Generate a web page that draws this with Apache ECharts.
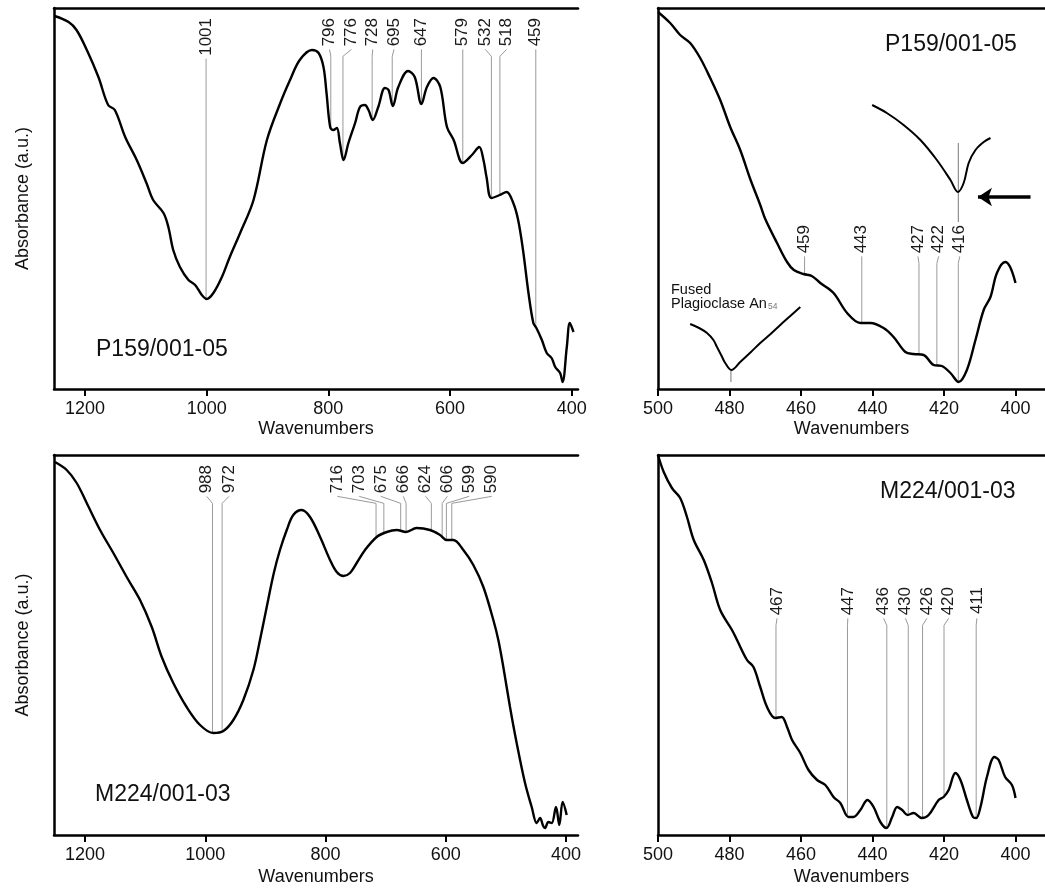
<!DOCTYPE html>
<html><head><meta charset="utf-8">
<script src="https://cdn.jsdelivr.net/npm/echarts@6/dist/echarts.min.js"></script>
<style>html,body{margin:0;padding:0;background:#fff}#c{width:1045px;height:888px}</style>
</head><body><div id="c"></div>
<script>
// ---------- DATA ----------
const TICKS_WIDE = [1200, 1000, 800, 600, 400];
const TICKS_NARROW = [500, 480, 460, 440, 420, 400];

// P159/001-05 full range
const P159_WN = [1250,1227,1214,1197,1178,1162,1151,1134,1115,1099,1088,1071,1063,1055,1044,1030,1019,1008,1000,989,975,962,945,923,901,879,863,847,827,816,808,803,797,792,786,781,775,767,756,748,740,734,727,718,707,701,694,685,669,658,647,638,627,616,605,594,579,564,552,545,540,532,518,507,496,488,480,471,463,458,449,441,433,427,419,415,408,403,397];
const P159_ABS = [373,367,359,339,312,284,279,252,229,206,189,176,162,139,122,109,104,94,90,96,112,132,156,189,249,286,309,329,339,336,322,296,262,259,261,246,229,246,266,282,284,279,269,282,301,299,283,302,318,312,285,302,311,302,262,249,226,234,242,229,212,191,194,197,186,169,139,96,66,61,49,36,31,22,16,7,42,66,57];
const P159_PEAKS = [1001,796,776,728,695,647,579,532,518,459];
const P159_LABEL_AT = [1001,798,762,727,692,647,579,542,507,459];

// P159/001-05 500-400 region
const P159Z_WN = [500,496.6,493.8,491,488.2,485.4,482.6,479.8,477,474.2,471.4,470,466.7,463.9,462,459.3,457,454.6,450.9,447.1,443.4,440.6,436.9,434.1,430.8,428.5,425.7,422.9,420.6,418.2,415.9,413.6,411.2,408.9,407,405.2,402.9,401.5,400];
const P159Z_ABS = [377,366,354,346,331,311,289,262,239,210,184,170,146,127,119,115,113,106,96,76,66,66,61,52,37,35,34,24,23,16,7,19,49,79,92,116,127,122,106];
const P159Z_PEAKS = [459,443,427,422,416];
const P159Z_LABEL_AT = [459,443,427.3,421.5,415.6];

// Fused plagioclase An54 reference trace
const FUSED_WN = [491,488.5,486.3,484.5,483.5,482.2,481.2,479.5,477,474,471.4,468.5,465.8,463,460.2];
const FUSED_ABS = [65,61,56,49,42,33,26,19,27,37,46,55,64,73,82];

// Magnified 416 band trace
const MAG_WN = [440.1,436,431.3,426.6,422,418.2,416.1,414.5,413.1,411.2,408.9,407];
const MAG_ABS = [284,276,264,249,229,209,197,206,226,239,247,251];

// M224/001-03 full range
const M224_WN = [1250,1230.5,1213.9,1197.2,1175,1152.9,1130.7,1108.5,1089,1072.4,1053.2,1031,1008.7,986.6,969.9,953.3,936.7,920,909,897.8,886,875.8,864.5,853.6,839.6,825.8,809,792.5,781.4,770.3,759.3,748.2,734.3,714.9,698.2,681.6,666,648.5,626.3,609.6,598.6,587.5,570.8,554.2,537.5,520.9,512.6,504.3,493.2,482.1,468.2,457.1,448.8,443.2,438,434.9,429.4,423.8,416.7,411.2,405.6,398.9];
const M224_ABS = [373,365,352,332,305,282,258,235,208,178,152,128,110,102,104,115,135,165,195,228,262,285,305,320,325,318,298,275,263,259,262,272,285,298,303,305,303,307,305,300,295,295,285,270,248,215,195,168,128,92,52,28,12,17,9,7,13,12,28,10,33,20];
const M224_PEAKS = [988,972,716,703,675,666,624,606,599,590];
const M224_LABEL_AT = [997.6,960.5,780.4,744,708,670.6,633.4,597.4,561,523.6];

// M224/001-03 500-400 region
const M224Z_WN = [500,498.4,496.1,493.8,491.9,490,487.2,484.9,482.6,479.3,477.9,475.1,473.3,471.4,469.5,467.2,465.4,463.9,462.5,460.2,457.9,455.5,453.2,450.9,449,446.7,445.3,443.4,441.4,439.7,437.8,436.1,434.5,433.1,431.7,430.2,428.5,426.2,424.3,421.5,420.1,418.7,416.8,415.4,413.6,411.9,411,409.8,408,405.9,404.7,402.9,401,400];
const M224Z_ABS = [380,363,347,337,318,295,275,252,225,205,195,175,168,148,128,117,118,108,95,82,65,55,50,38,32,18,18,25,35,28,13,7,18,28,25,20,22,17,20,35,38,45,62,55,35,18,17,28,58,78,75,58,50,37];
const M224Z_PEAKS = [467,447,436,430,426,420,411];
const M224Z_LABEL_AT = [466.7,446.9,436.9,430.8,424.8,418.7,410.8];

// ---------- HELPERS ----------
const FONT = '"Liberation Sans", Arial, Helvetica, sans-serif';
function interp(xs, ys, x) {
  for (let i = 0; i < xs.length - 1; i++) {
    const a = xs[i], b = xs[i + 1];
    if ((x <= a && x >= b) || (x >= a && x <= b)) {
      const t = (x - a) / (b - a);
      return ys[i] + t * (ys[i + 1] - ys[i]);
    }
  }
  return ys[ys.length - 1];
}
const zip = (a, b) => a.map((v, i) => [v, b[i]]);

const panels = [
  { grid: {left: 54, top: 8, width: 524, height: 381}, min: 389.6, max: 1251, ymax: 381, ticks: TICKS_WIDE, yname: true,
    wn: P159_WN, ab: P159_ABS, peaks: P159_PEAKS, at: P159_LABEL_AT, top: 371 },
  { grid: {left: 658, top: 8, width: 387, height: 381}, min: 391.75, max: 500, ymax: 381, ticks: TICKS_NARROW, yname: false,
    wn: P159Z_WN, ab: P159Z_ABS, peaks: P159Z_PEAKS, at: P159Z_LABEL_AT, top: 164 },
  { grid: {left: 54, top: 455, width: 524, height: 380}, min: 380.1, max: 1251.6, ymax: 380, ticks: TICKS_WIDE, yname: true,
    wn: M224_WN, ab: M224_ABS, peaks: M224_PEAKS, at: M224_LABEL_AT, top: 370 },
  { grid: {left: 658, top: 455, width: 387, height: 380}, min: 391.75, max: 500, ymax: 380, ticks: TICKS_NARROW, yname: false,
    wn: M224Z_WN, ab: M224Z_ABS, peaks: M224Z_PEAKS, at: M224Z_LABEL_AT, top: 248 }
];

const axisLineStyle = {color: '#000', width: 2.5};
const grids = [], xAxes = [], yAxes = [], series = [];
const LABEL_FS = 17;

panels.forEach((p, i) => {
  grids.push(Object.assign({containLabel: false}, p.grid));
  xAxes.push({
    type: 'value', gridIndex: i, inverse: true, min: p.min, max: p.max, position: 'bottom',
    axisLine: {show: true, onZero: false, lineStyle: axisLineStyle},
    axisTick: {show: true, customValues: p.ticks, length: 7, lineStyle: {color: '#000', width: 2}},
    axisLabel: {show: true, customValues: p.ticks, formatter: (v) => String(Math.round(v)),
                fontSize: 18, color: '#111', margin: 11, fontFamily: FONT},
    splitLine: {show: false},
    name: 'Wavenumbers', nameLocation: 'middle', nameGap: i < 2 ? 31 : 33,
    nameTextStyle: {fontSize: 18, color: '#111', fontFamily: FONT}
  });
  xAxes.push({
    type: 'value', gridIndex: i, inverse: true, min: p.min, max: p.max, position: 'top',
    axisLine: {show: true, onZero: false, lineStyle: axisLineStyle},
    axisTick: {show: false}, axisLabel: {show: false}, splitLine: {show: false}
  });
  yAxes.push({
    type: 'value', gridIndex: i, min: 0, max: p.ymax,
    axisLine: {show: true, onZero: false, lineStyle: axisLineStyle},
    axisTick: {show: false}, axisLabel: {show: false}, splitLine: {show: false},
    name: p.yname ? 'Absorbance (a.u.)' : '', nameLocation: 'middle', nameGap: 22, nameRotate: 90,
    nameTextStyle: {fontSize: 18, color: '#111', fontFamily: FONT}
  });

  // leader lines
  const leaders = p.peaks.map((pk, k) => {
    const txt = String(pk);
    const len = txt.length * 0.556 * LABEL_FS;
    const start = p.top - len - 3;
    const bend = start - 7;
    const cy = interp(p.wn, p.ab, pk);
    const lx = p.at[k];
    const coords = Math.abs(lx - pk) < 1e-6 ? [[pk, start], [pk, cy]] : [[lx, start], [pk, bend], [pk, cy]];
    return {coords};
  });
  series.push({
    type: 'lines', coordinateSystem: 'cartesian2d', xAxisIndex: 2 * i, yAxisIndex: i,
    polyline: true, silent: true, z: 1,
    lineStyle: {color: '#9a9a9a', width: 1, opacity: 1},
    data: leaders
  });
  // peak labels
  series.push({
    type: 'scatter', xAxisIndex: 2 * i, yAxisIndex: i, symbolSize: 0, silent: true, z: 3,
    itemStyle: {color: '#000'},
    data: p.peaks.map((pk, k) => [p.at[k], p.top, String(pk)]),
    label: {show: true, position: 'inside', formatter: (d) => d.value[2], rotate: 90,
            align: 'right', verticalAlign: 'middle', fontSize: LABEL_FS, color: '#1a1a1a',
            textBorderWidth: 0, opacity: 1, fontFamily: FONT}
  });
  // spectrum
  series.push({
    type: 'line', xAxisIndex: 2 * i, yAxisIndex: i, data: zip(p.wn, p.ab),
    showSymbol: false, smooth: 0.35, silent: true, z: 4,
    lineStyle: {color: '#000', width: 2.4}
  });
});

// extra traces in the P159 500-400 panel
series.push({
  type: 'line', xAxisIndex: 2, yAxisIndex: 1, data: zip(FUSED_WN, FUSED_ABS),
  showSymbol: false, smooth: 0.35, silent: true, z: 4, lineStyle: {color: '#000', width: 2}
});
series.push({
  type: 'line', xAxisIndex: 2, yAxisIndex: 1, data: zip(MAG_WN, MAG_ABS),
  showSymbol: false, smooth: 0.35, silent: true, z: 4, lineStyle: {color: '#000', width: 2}
});
series.push({
  type: 'lines', coordinateSystem: 'cartesian2d', xAxisIndex: 2, yAxisIndex: 1, polyline: true, silent: true, z: 1,
  lineStyle: {color: '#777', width: 1, opacity: 1},
  data: [
    {coords: [[416, 246], [416, 167]]},
    {coords: [[479.6, interp(FUSED_WN, FUSED_ABS, 479.6)], [479.6, 7]]}
  ]
});
// arrow pointing at the magnified band
series.push({
  type: 'lines', coordinateSystem: 'cartesian2d', xAxisIndex: 2, yAxisIndex: 1, silent: true, z: 5,
  symbol: ['none', 'arrow'], symbolSize: 14,
  lineStyle: {color: '#000', width: 3.5, opacity: 1},
  data: [{coords: [[395.8, 192], [410.5, 192]]}]
});

const sampleText = (x, y, t) => ({type: 'text', x, y, silent: true,
  style: {text: t, fontSize: 23, fontFamily: FONT, fill: '#111', verticalAlign: 'middle', align: 'left'}});

const option = {
  animation: false,
  backgroundColor: '#fff',
  grid: grids, xAxis: xAxes, yAxis: yAxes, series,
  graphic: [
    sampleText(96, 350, 'P159/001-05'),
    sampleText(885, 45, 'P159/001-05'),
    sampleText(95, 795, 'M224/001-03'),
    sampleText(880, 492, 'M224/001-03'),
    {type: 'text', x: 671, y: 283, silent: true,
     style: {text: 'Fused\nPlagioclase An{s|54}', fontSize: 14.5, lineHeight: 14, fontFamily: FONT, fill: '#111',
             rich: {s: {fontSize: 8.5, fill: '#777', verticalAlign: 'bottom', padding: [6, 0, 0, 1]}}}}
  ]
};
const chart = echarts.init(document.getElementById('c'), null, {renderer: 'canvas'});
chart.setOption(option);
</script></body></html>
